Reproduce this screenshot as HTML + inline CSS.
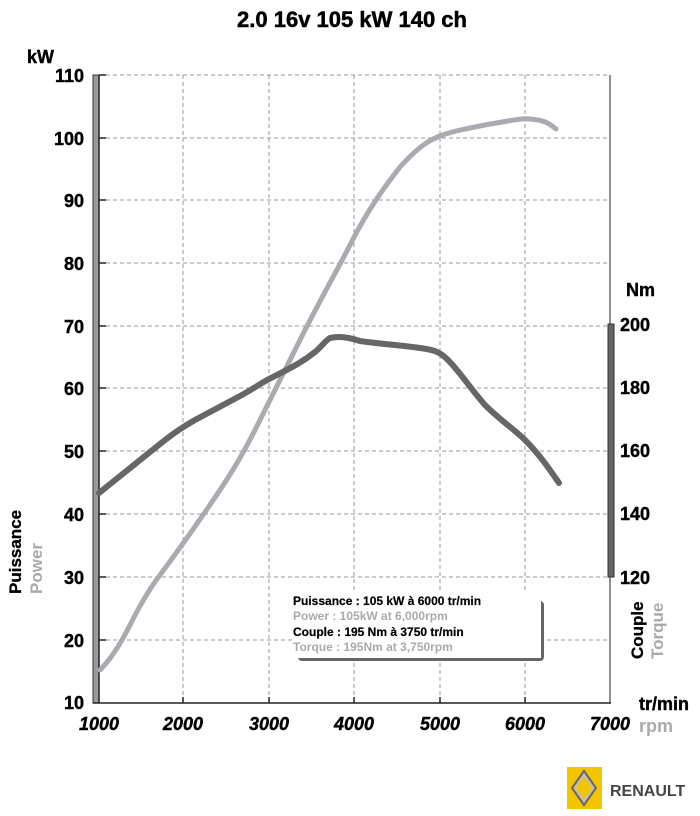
<!DOCTYPE html>
<html><head><meta charset="utf-8"><style>
body{margin:0;background:#fff;}
svg{display:block;font-family:"Liberation Sans",sans-serif;font-weight:bold;}
</style></head><body>
<svg width="700" height="816" viewBox="0 0 700 816" xmlns="http://www.w3.org/2000/svg">
<text x="352" y="27" font-size="22" text-anchor="middle" fill="#000" stroke="#000" stroke-width="0.5">2.0 16v 105 kW 140 ch</text>
<text x="27" y="63" font-size="18" stroke="#000" stroke-width="0.4">kW</text>
<g stroke="#999" stroke-width="1" stroke-dasharray="4,3" fill="none">
<line x1="99" y1="75" x2="610" y2="75"/><line x1="99" y1="138" x2="610" y2="138"/><line x1="99" y1="200" x2="610" y2="200"/><line x1="99" y1="263" x2="610" y2="263"/><line x1="99" y1="326" x2="610" y2="326"/><line x1="99" y1="388" x2="610" y2="388"/><line x1="99" y1="451" x2="610" y2="451"/><line x1="99" y1="514" x2="610" y2="514"/><line x1="99" y1="577" x2="610" y2="577"/><line x1="99" y1="640" x2="610" y2="640"/>
<line x1="183" y1="75" x2="183" y2="703"/><line x1="269" y1="75" x2="269" y2="703"/><line x1="354" y1="75" x2="354" y2="703"/><line x1="440" y1="75" x2="440" y2="703"/><line x1="525" y1="75" x2="525" y2="703"/>
</g>
<rect x="93" y="75" width="6" height="628" fill="#9a9aa0" stroke="#333" stroke-width="1"/>
<line x1="99" y1="75" x2="99" y2="703" stroke="#222" stroke-width="1.5"/>
<line x1="610" y1="75" x2="610" y2="703" stroke="#222" stroke-width="1"/>
<rect x="608" y="324" width="6" height="253" fill="#666" stroke="#333" stroke-width="1"/>
<line x1="93" y1="703" x2="611" y2="703" stroke="#222" stroke-width="1.5"/>
<g stroke="#222" stroke-width="1.5">
<line x1="99" y1="75" x2="106" y2="75"/><line x1="99" y1="138" x2="106" y2="138"/><line x1="99" y1="200" x2="106" y2="200"/><line x1="99" y1="263" x2="106" y2="263"/><line x1="99" y1="326" x2="106" y2="326"/><line x1="99" y1="388" x2="106" y2="388"/><line x1="99" y1="451" x2="106" y2="451"/><line x1="99" y1="514" x2="106" y2="514"/><line x1="99" y1="577" x2="106" y2="577"/><line x1="99" y1="640" x2="106" y2="640"/>
<line x1="183" y1="703" x2="183" y2="697"/><line x1="269" y1="703" x2="269" y2="697"/><line x1="354" y1="703" x2="354" y2="697"/><line x1="440" y1="703" x2="440" y2="697"/><line x1="525" y1="703" x2="525" y2="697"/>
</g>
<g font-size="18" text-anchor="end" stroke="#000" stroke-width="0.4">
<text x="84" y="82">110</text><text x="84" y="145">100</text><text x="84" y="207">90</text><text x="84" y="270">80</text><text x="84" y="333">70</text><text x="84" y="395">60</text><text x="84" y="458">50</text><text x="84" y="521">40</text><text x="84" y="584">30</text><text x="84" y="647">20</text><text x="84" y="709">10</text>
</g>
<g font-size="18" text-anchor="start" stroke="#000" stroke-width="0.4">
<text x="620" y="331">200</text><text x="620" y="394">180</text><text x="620" y="457">160</text><text x="620" y="520">140</text><text x="620" y="584">120</text>
<text x="626" y="296">Nm</text>
</g>
<g font-size="18" font-style="italic" text-anchor="middle" stroke="#000" stroke-width="0.4">
<text x="99" y="730">1000</text><text x="183" y="730">2000</text><text x="269" y="730">3000</text><text x="354" y="730">4000</text><text x="440" y="730">5000</text><text x="525" y="730">6000</text><text x="610" y="730">7000</text>
</g>
<text x="639" y="710" font-size="18" stroke="#000" stroke-width="0.4">tr/min</text>
<text x="639" y="732" font-size="18" fill="#aaa">rpm</text>
<text transform="translate(21,594) rotate(-90)" font-size="17" stroke="#000" stroke-width="0.3">Puissance</text>
<text transform="translate(42,594) rotate(-90)" font-size="17" fill="#aaa">Power</text>
<text transform="translate(643,659) rotate(-90)" font-size="17" stroke="#000" stroke-width="0.3">Couple</text>
<text transform="translate(663,659) rotate(-90)" font-size="17" fill="#aaa">Torque</text>
<path fill="none" stroke="#aaaab0" stroke-width="5" stroke-linecap="round" d="M100,670 C110,660 120,645 130,625 C140,605 150,588 160,575 C180,548 200,520 220,490 C240,460 250,440 260,420 C275,390 290,360 300,340 C320,300 340,265 350,245 C370,205 390,180 400,167 C420,145 430,140 440,136 C450,132 460,130 490,124 C510,121 520,118 530,119 C545,120 550,124 556,129"/>
<path fill="none" stroke="#666" stroke-width="6" stroke-linecap="round" d="M99,493 C120,476 140,460 160,444 C175,432 183,427 195,420 C210,412 225,404 240,396 C255,388 262,382 275,376 C295,366 305,360 315,352 C322,346 326,340 330,338 C338,336 348,337 360,341 C380,344 400,345 420,348 C435,350 440,352 448,360 C460,372 470,388 485,405 C500,420 515,430 525,440 C540,455 550,470 559,483"/>
<rect x="298" y="601" width="246" height="60" rx="4" fill="#666"/>
<rect x="292" y="592" width="249" height="66" fill="#fff"/>
<g font-size="12" stroke-width="0.2">
<text x="293" y="605" stroke="#000">Puissance : 105 kW à 6000 tr/min</text>
<text x="293" y="620" fill="#aaa">Power : 105kW at 6,000rpm</text>
<text x="293" y="636" stroke="#000">Couple : 195 Nm à 3750 tr/min</text>
<text x="293" y="651" fill="#aaa">Torque : 195Nm at 3,750rpm</text>
</g>
<rect x="567" y="767" width="35" height="42" fill="#f2c500"/>
<polygon points="584,771 596,788 584,805 572,788" fill="#c8c0a8" stroke="#666" stroke-width="2"/>
<polygon points="584,777 592,788 584,799 576,788" fill="#f2c500"/>
<text x="610" y="796" font-size="16" fill="#444">RENAULT</text>
</svg>
</body></html>
